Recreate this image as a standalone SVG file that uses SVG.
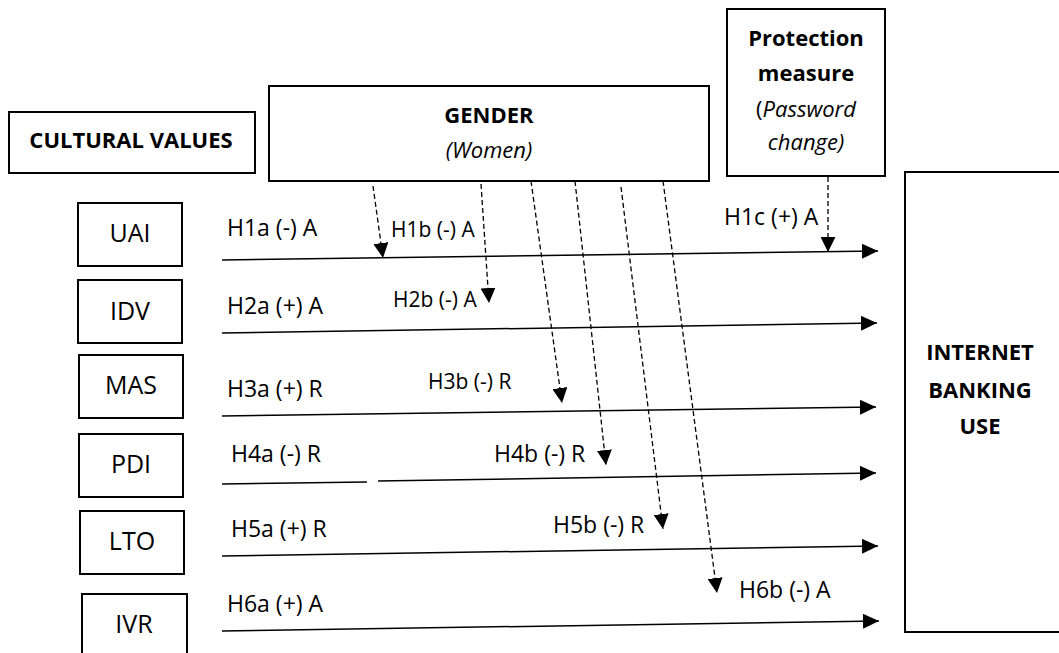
<svg xmlns="http://www.w3.org/2000/svg" width="1059" height="653" viewBox="0 0 1059 653">
<defs>
<style>
.box{fill:#fff;stroke:#000;stroke-width:2}
.t{font-family:"Open Sans","Liberation Sans",sans-serif;fill:#000}
.node{font-size:25px;text-anchor:middle}
.bold{font-size:22px;font-weight:bold;text-anchor:middle}
.lbl{font-size:23px}
.lbls{font-size:21px}
.solid{stroke:#000;stroke-width:1.5;fill:none}
.dash{stroke:#000;stroke-width:1.3;fill:none;stroke-dasharray:5 3}
</style>
<marker id="ah" markerUnits="userSpaceOnUse" markerWidth="16" markerHeight="15" refX="16" refY="7.5" orient="auto" viewBox="0 0 16 15">
<path d="M0,0 L16,7.5 L0,15 z" fill="#000"/>
</marker>
<marker id="ahs" markerUnits="userSpaceOnUse" markerWidth="15" markerHeight="15" refX="15" refY="7.5" orient="auto" viewBox="0 0 15 15">
<path d="M0,0 L15,7.5 L0,15 z" fill="#000"/>
</marker>
</defs>
<rect width="1059" height="653" fill="#fff"/>

<g id="cultural-values">
<rect class="box" x="9" y="112" width="246" height="61"/>
<text class="t bold" x="131" y="148">CULTURAL VALUES</text>
</g>
<g id="gender">
<rect class="box" x="269" y="86" width="440" height="95"/>
<text class="t bold" x="489" y="123">GENDER</text>
<text class="t" x="489" y="158" style="font-size:22px;font-style:italic;text-anchor:middle">(Women)</text>
</g>
<g id="protection">
<rect class="box" x="727" y="9" width="158" height="167"/>
<text class="t bold" x="806" y="46">Protection</text>
<text class="t bold" x="806" y="81">measure</text>
<text class="t" x="806" y="117" style="font-size:22px;text-anchor:middle">(<tspan font-style="italic">Password</tspan></text>
<text class="t" x="806" y="150" style="font-size:22px;font-style:italic;text-anchor:middle">change)</text>
</g>
<g id="internet-banking">
<rect class="box" x="905" y="172" width="170" height="460"/>
<text class="t bold" x="980" y="360">INTERNET</text>
<text class="t bold" x="980" y="398">BANKING</text>
<text class="t bold" x="980" y="434">USE</text>
</g>
<g id="uai">
<rect class="box" x="78" y="203" width="104" height="63"/>
<text class="t node" x="130" y="242">UAI</text>
</g>
<g id="idv">
<rect class="box" x="78" y="280" width="104" height="63"/>
<text class="t node" x="130" y="320">IDV</text>
</g>
<g id="mas">
<rect class="box" x="79" y="355" width="104" height="63"/>
<text class="t node" x="131" y="394">MAS</text>
</g>
<g id="pdi">
<rect class="box" x="79" y="434" width="104" height="63"/>
<text class="t node" x="131" y="473">PDI</text>
</g>
<g id="lto">
<rect class="box" x="80" y="511" width="104" height="63"/>
<text class="t node" x="132" y="550">LTO</text>
</g>
<g id="ivr">
<rect class="box" x="82" y="594" width="105" height="80"/>
<text class="t node" x="134" y="633">IVR</text>
</g>

<g id="connectors">
<line class="solid" x1="222" y1="260" x2="878" y2="251" marker-end="url(#ah)"/>
<line class="solid" x1="222" y1="333" x2="877" y2="323" marker-end="url(#ah)"/>
<line class="solid" x1="222" y1="416" x2="876" y2="407" marker-end="url(#ah)"/>
<line class="solid" x1="222" y1="484" x2="367" y2="482"/>
<line class="solid" x1="378" y1="481" x2="876" y2="473" marker-end="url(#ah)"/>
<line class="solid" x1="222" y1="556" x2="878" y2="546" marker-end="url(#ah)"/>
<line class="solid" x1="222" y1="631" x2="879" y2="621" marker-end="url(#ah)"/>

<line class="dash" x1="373" y1="186" x2="383" y2="258" marker-end="url(#ahs)"/>
<line class="dash" x1="481" y1="184" x2="489" y2="303" marker-end="url(#ahs)"/>
<line class="dash" x1="531" y1="181" x2="562" y2="403" marker-end="url(#ahs)"/>
<line class="dash" x1="575" y1="181" x2="606" y2="465" marker-end="url(#ahs)"/>
<line class="dash" x1="621" y1="187" x2="663" y2="529" marker-end="url(#ahs)"/>
<line class="dash" x1="663" y1="181" x2="717" y2="593" marker-end="url(#ahs)"/>
<line class="dash" x1="828" y1="177" x2="828" y2="252" marker-end="url(#ahs)"/>
</g>

<g id="labels">
<text class="t lbl" x="227" y="236">H1a (-) A</text>
<text class="t lbls" x="391" y="237">H1b (-) A</text>
<text class="t lbl" x="724" y="225">H1c (+) A</text>
<text class="t lbl" x="227" y="314">H2a (+) A</text>
<text class="t lbls" x="393" y="307">H2b (-) A</text>
<text class="t lbl" x="227" y="397">H3a (+) R</text>
<text class="t lbls" x="428" y="389">H3b (-) R</text>
<text class="t lbl" x="231" y="462">H4a (-) R</text>
<text class="t lbl" x="494" y="462">H4b (-) R</text>
<text class="t lbl" x="231" y="537">H5a (+) R</text>
<text class="t lbl" x="553" y="533">H5b (-) R</text>
<text class="t lbl" x="227" y="612">H6a (+) A</text>
<text class="t lbl" x="739" y="598">H6b (-) A</text>
</g>
</svg>
